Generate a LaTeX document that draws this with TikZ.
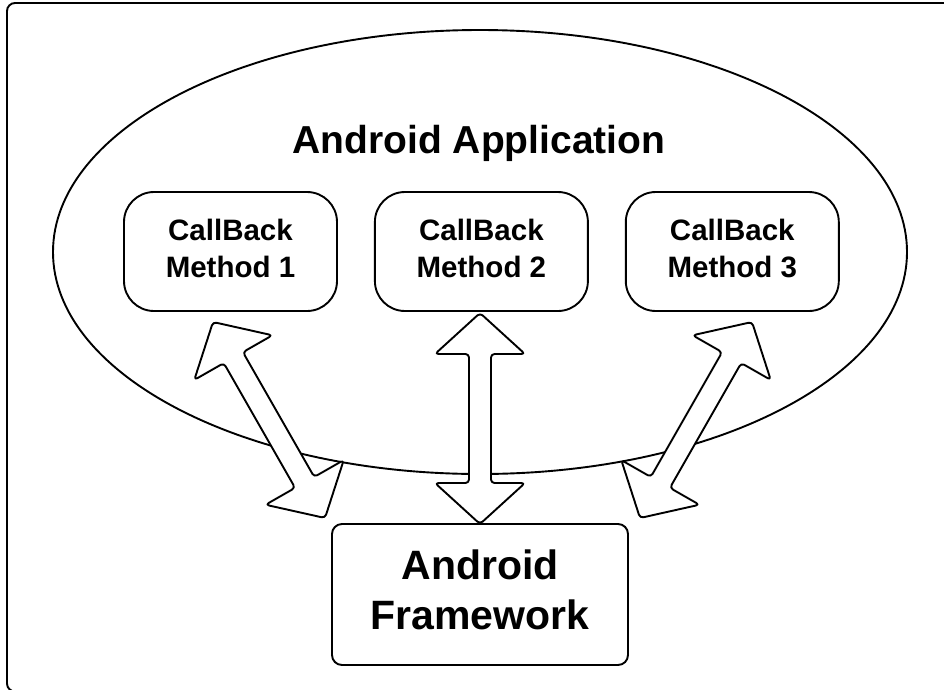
\documentclass[tikz,border=0pt]{standalone}
\usepackage{fontspec}
\setmainfont{Liberation Sans}
\usetikzlibrary{positioning,calc,shapes.geometric}

\newcommand{\dblarrow}[2]{%
  \draw[blockarrow] let \p1=($(#2)-(#1)$), \n1={atan2(\y1,\x1)}, \n2={veclen(\x1,\y1)} in
    [shift={(#1)}, rotate=\n1] (0,0) -- (41,45) -- (41,11) -- (\n2-41,11) -- (\n2-41,45)
    -- (\n2,0) -- (\n2-41,-45) -- (\n2-41,-11) -- (41,-11) -- (41,-45) -- cycle;}

\begin{document}
\begin{tikzpicture}[x=1pt,y=-1pt,line width=1.9pt,
  method/.style={draw,rounded corners=30pt,minimum width=213pt,minimum height=119pt},
  methodtext/.style={align=center,font=\fontsize{29.5}{37}\selectfont\bfseries},
  frame/.style={draw,rounded corners=10pt,minimum width=296pt,minimum height=141pt},
  frametext/.style={align=center,font=\fontsize{41}{50}\selectfont\bfseries},
  blockarrow/.style={draw,fill=white,rounded corners=3.5pt,line join=round}]
  \useasboundingbox (0,0) rectangle (944,689);
  % outer border, cut off right and below
  \draw[rounded corners=8pt] (7,3) rectangle (980,691.5);
  % application
  \node[draw,ellipse,minimum width=854pt,minimum height=444pt] (app) at (480,252) {};
  \node[font=\fontsize{39}{47}\selectfont\bfseries] (apptitle) at (479,143) {Android Application};
  \node[method] (m1) at (230.5,251.5) {};
  \node[method] (m2) [right=36pt of m1] {};
  \node[method] (m3) [right=36pt of m2] {};
  \node[methodtext] (m1t) at ([yshift=3pt]m1.center) {CallBack\\Method 1};
  \node[methodtext] (m2t) at ([yshift=3pt]m2.center) {CallBack\\Method 2};
  \node[methodtext] (m3t) at ([yshift=3pt]m3.center) {CallBack\\Method 3};
  % framework
  \node[frame] (fw) at (480,594.5) {};
  \node[frametext] (fwt) at ([yshift=5pt]fw.center) {Android\\Framework};
  % arrow ends
  \coordinate (a1top) at (213,322);
  \coordinate (a1bot) at (325,518);
  \coordinate (a2top) at (480,313);
  \coordinate (a2bot) at (480,524);
  \coordinate (a3top) at (752,322);
  \coordinate (a3bot) at (640,518);
  \dblarrow{a1top}{a1bot}
  \dblarrow{a2top}{a2bot}
  \dblarrow{a3top}{a3bot}
\end{tikzpicture}
\end{document}
